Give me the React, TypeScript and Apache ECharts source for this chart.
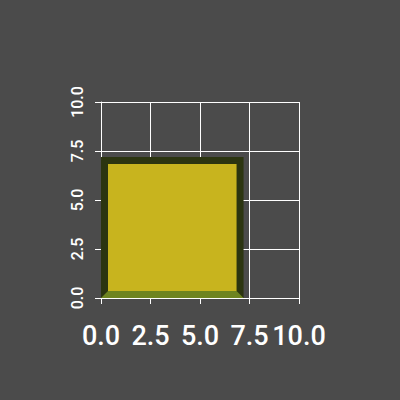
import React, { useEffect, useRef } from "react";
import * as echarts from "echarts";

const xTicks = [0, 2.5, 5, 7.5, 10];
const yTicks = [0, 2.5, 5, 7.5, 10];
// rectangle: [x0, y0, x1, y1]
const rects = [[0, 0, 7.2, 7.2]];
const BORDER = 7;

export default function App() {
  const ref = useRef<HTMLDivElement>(null);
  useEffect(() => {
    const chart = echarts.init(ref.current!, null, { renderer: "svg" });
    chart.setOption({
      animation: false,
      backgroundColor: "#4b4b4b",
      grid: { left: 101, right: 101, top: 102, bottom: 102 },
      xAxis: {
        type: "value",
        min: xTicks[0],
        max: xTicks[xTicks.length - 1],
        interval: 2.5,
        axisLine: { show: true, lineStyle: { color: "#ffffff", width: 1 } },
        axisTick: { show: true, length: 6, lineStyle: { color: "#ffffff" } },
        splitLine: { show: true, lineStyle: { color: "#ffffff", width: 1 } },
        axisLabel: {
          color: "#ffffff",
          fontSize: 27,
          fontWeight: 500,
          fontFamily: "Roboto",
          margin: 24,
          formatter: (v: number) => v.toFixed(1),
        },
      },
      yAxis: {
        type: "value",
        min: yTicks[0],
        max: yTicks[yTicks.length - 1],
        interval: 2.5,
        axisLine: { show: true, lineStyle: { color: "#ffffff", width: 1 } },
        axisTick: { show: true, length: 6, lineStyle: { color: "#ffffff" } },
        splitLine: { show: true, lineStyle: { color: "#ffffff", width: 1 } },
        axisLabel: {
          color: "#ffffff",
          fontSize: 16,
          fontWeight: 500,
          fontFamily: "Roboto",
          rotate: 90,
          margin: 16,
          formatter: (v: number) => v.toFixed(1),
        },
      },
      series: [
        {
          type: "custom",
          data: rects,
          renderItem: (params: any, api: any) => {
            const p0 = api.coord([api.value(0), api.value(1)]);
            const p1 = api.coord([api.value(2), api.value(3)]);
            const l = p0[0], b = p0[1], r = p1[0], t = p1[1];
            const w = BORDER;
            return {
              type: "group",
              children: [
                { type: "rect", shape: { x: l, y: t, width: r - l, height: b - t }, style: { fill: "#2c3510" } },
                {
                  type: "polygon",
                  shape: { points: [[l, b], [r, b], [r - w, b - w], [l + w, b - w]] },
                  style: { fill: "#6e8420" },
                },
                {
                  type: "rect",
                  shape: { x: l + w, y: t + w, width: r - l - 2 * w, height: b - t - 2 * w },
                  style: { fill: "#c8b41e" },
                },
              ],
            };
          },
        },
      ],
    });
    return () => chart.dispose();
  }, []);
  return <div ref={ref} style={{ width: 400, height: 400, position: "absolute", left: 0, top: 0 }} />;
}
